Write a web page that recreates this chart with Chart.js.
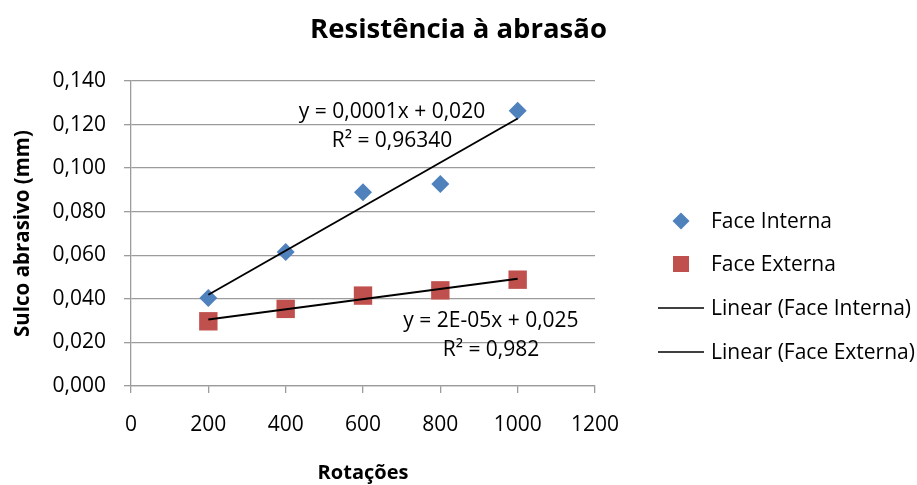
<!DOCTYPE html>
<html>
<head>
<meta charset="utf-8">
<script src="https://cdn.jsdelivr.net/npm/chart.js@4.4.1/dist/chart.umd.min.js"></script>
<style>
  html, body { margin: 0; padding: 0; background: #fff; }
  #wrap { width: 917px; height: 485px; position: relative; }
</style>
</head>
<body>
<div id="wrap"><canvas id="c" width="917" height="485"></canvas></div>
<script>
const chartTitle = 'Resistência à abrasão';
const xTitle = 'Rotações';
const yTitle = 'Sulco abrasivo (mm)';
const rotacoes = [200, 400, 600, 800, 1000];
const faceInterna = [0.0404, 0.0615, 0.0889, 0.0927, 0.1263];
const faceExterna = [0.0297, 0.0354, 0.0415, 0.0439, 0.0488];
const trendX = [200, 1000];
const trendInterna = [0.0419, 0.1228];
const trendExterna = [0.0305, 0.0492];
const seriesLabels = ['Face Interna', 'Face Externa', 'Linear (Face Interna)', 'Linear (Face Externa)'];
const eqInterna = ['y = 0,0001x + 0,020', 'R² = 0,96340'];
const eqExterna = ['y = 2E-05x + 0,025', 'R² = 0,982'];

const FONT = '"Open Sans", Lato, sans-serif';
const BLUE = '#4F81BD';
const RED = '#C0504D';
const GRID = '#9c9c9c';

const pts = (xs, ys) => xs.map((x, i) => ({x: x, y: ys[i]}));

const overlay = {
  id: 'overlay',
  afterDraw(chart) {
    const ctx = chart.ctx;
    ctx.save();
    ctx.fillStyle = '#000';
    ctx.font = 'bold 27.5px ' + FONT;
    ctx.textAlign = 'center';
    ctx.textBaseline = 'middle';
    ctx.fillText(chartTitle, chart.width / 2, 30);
    ctx.restore();
  },
  afterDatasetsDraw(chart) {
    const ctx = chart.ctx;
    const xs = chart.scales.x, ys = chart.scales.y;
    ctx.save();
    ctx.fillStyle = '#000';
    ctx.font = '21px ' + FONT;
    ctx.textAlign = 'center';
    ctx.textBaseline = 'middle';
    // trendline equations (anchored in data space)
    const a1x = xs.getPixelForValue(675);
    ctx.fillText(eqInterna[0], a1x, ys.getPixelForValue(0.1258));
    ctx.fillText(eqInterna[1], a1x, ys.getPixelForValue(0.1124));
    const a2x = xs.getPixelForValue(931);
    ctx.fillText(eqExterna[0], a2x, ys.getPixelForValue(0.0297));
    ctx.fillText(eqExterna[1], a2x, ys.getPixelForValue(0.0164));

    // legend
    const lx = chart.chartArea.right + 86;
    const tx = chart.chartArea.right + 116;
    const rows = [221, 264, 308, 352];
    ctx.textAlign = 'left';
    chart.data.datasets.forEach((ds, i) => {
      const y = rows[i];
      if (ds.showLine) {
        ctx.strokeStyle = ds.borderColor;
        ctx.lineWidth = 1.6;
        ctx.beginPath();
        ctx.moveTo(lx - 23, y);
        ctx.lineTo(lx + 23, y);
        ctx.stroke();
      } else {
        ctx.fillStyle = ds.backgroundColor;
        if (ds.pointStyle === 'rectRot') {
          ctx.beginPath();
          ctx.moveTo(lx - 8.5, y); ctx.lineTo(lx, y - 8.5); ctx.lineTo(lx + 8.5, y); ctx.lineTo(lx, y + 8.5);
          ctx.closePath(); ctx.fill();
        } else {
          ctx.fillRect(lx - 8, y - 8, 16, 16);
        }
      }
      ctx.fillStyle = '#000';
      ctx.fillText(ds.label, tx, y + 1);
    });
    ctx.restore();
  }
};

new Chart(document.getElementById('c'), {
  type: 'scatter',
  data: {
    datasets: [
      { label: seriesLabels[0], data: pts(rotacoes, faceInterna), pointStyle: 'rectRot', pointRadius: 9, pointHoverRadius: 9,
        backgroundColor: BLUE, borderColor: BLUE, borderWidth: 0, order: 2 },
      { label: seriesLabels[1], data: pts(rotacoes, faceExterna), pointStyle: 'rect', pointRadius: 13, pointHoverRadius: 13,
        backgroundColor: RED, borderColor: RED, borderWidth: 0, order: 3 },
      { label: seriesLabels[2], data: pts(trendX, trendInterna), showLine: true, pointRadius: 0, borderColor: '#000', borderWidth: 1.9, order: 0 },
      { label: seriesLabels[3], data: pts(trendX, trendExterna), showLine: true, pointRadius: 0, borderColor: '#000', borderWidth: 1.9, order: 1 }
    ]
  },
  options: {
    responsive: false,
    animation: false,
    layout: { padding: { top: 81, right: 322, bottom: 0, left: 0 } },
    plugins: {
      legend: { display: false },
      tooltip: { enabled: false },
      title: { display: false }
    },
    scales: {
      x: {
        type: 'linear', min: 0, max: 1200,
        ticks: { stepSize: 200, color: '#000', font: { family: FONT, size: 21 }, padding: 19, maxRotation: 0,
          callback: v => String(v) },
        grid: { drawOnChartArea: false, drawTicks: true, tickLength: 7, color: GRID, lineWidth: 1.3 },
        border: { color: GRID, width: 1.3 },
        title: { display: true, text: xTitle, color: '#000', font: { family: FONT, size: 20, weight: 'bold' }, padding: { top: 3, bottom: 0 } },
        afterFit(s) { s.height = 99; }
      },
      y: {
        min: 0, max: 0.14,
        ticks: { stepSize: 0.02, color: '#000', font: { family: FONT, size: 21 }, padding: 18,
          callback: v => v.toFixed(3).replace('.', ',') },
        grid: { color: GRID, lineWidth: 1.3, tickLength: 7 },
        border: { color: GRID, width: 1.3 },
        title: { display: true, text: yTitle, color: '#000', font: { family: FONT, size: 20.5, weight: 'bold' }, padding: { top: 11, bottom: 0 } },
        afterFit(s) { s.width = 131; }
      }
    }
  },
  plugins: [overlay]
});
</script>
</body>
</html>
